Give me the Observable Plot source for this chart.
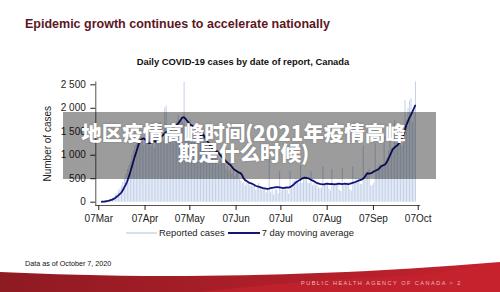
<!DOCTYPE html>
<html>
<head>
<meta charset="utf-8">
<script src="https://cdn.jsdelivr.net/npm/d3@7"></script>
<script src="https://cdn.jsdelivr.net/npm/@observablehq/plot@0.6"></script>
<style>
  html, body { margin: 0; padding: 0; background: #fff; }
  #root { position: relative; width: 500px; height: 292px; overflow: hidden; background: #fff; font-family: "Liberation Sans", Arial, sans-serif; }
  #chart { position: absolute; left: 0; top: 0; }
  .abs { position: absolute; white-space: nowrap; }
</style>
</head>
<body>
<div id="root">
  <div id="chart"></div>
  <div class="abs" id="title" style="left:25px; top:17px; font-size:12.5px; font-weight:bold; color:#5c1624;">Epidemic growth continues to accelerate nationally</div>
  <div class="abs" id="subtitle" style="left:0; width:486px; text-align:center; top:56px; font-size:9.4px; font-weight:bold; color:#111;">Daily COVID-19 cases by date of report, Canada</div>
  <div class="abs" id="legend" style="left:126px; top:227px; font-size:9.4px; color:#222; display:flex; align-items:center;">
    <svg width="31" height="6"><line x1="0" x2="31" y1="3" y2="3" stroke="#bccbe3" stroke-width="1.2"/></svg>
    <span style="margin:0 3px 0 2px;">Reported cases</span>
    <svg width="32" height="6"><line x1="0" x2="32" y1="3" y2="3" stroke="#14147a" stroke-width="2"/></svg>
    <span style="margin-left:2px;">7 day moving average</span>
  </div>
  <div class="abs" id="note" style="left:25px; top:259px; font-size:7.2px; color:#111;">Data as of October 7, 2020</div>
  <svg class="abs" style="left:0; top:255px;" width="500" height="37">
    <defs>
      <linearGradient id="rg" x1="0" x2="1" y1="0" y2="0">
        <stop offset="0" stop-color="#8e1a22"/>
        <stop offset="0.45" stop-color="#a81e28"/>
        <stop offset="1" stop-color="#c4222d"/>
      </linearGradient>
    </defs>
    <path d="M0,17 C120,23 300,24 500,7 L500,37 L0,37 Z" fill="url(#rg)"/>
    <path d="M200,37 C260,30 330,24 420,20 L500,8 L500,37 Z" fill="#c8232f" opacity="0.6"/>
    <text x="301" y="30" font-size="5.6" letter-spacing="1.45" fill="#e9b9bd" font-family="Liberation Sans, Arial">PUBLIC HEALTH AGENCY OF CANADA &gt; 2</text>
  </svg>
  <div class="abs" id="overlay" style="left:63px; top:112px; width:373px; height:67px; background:rgba(0,0,0,0.39); white-space:normal; text-align:center; color:#fff; font-family:'Noto Sans CJK SC','Noto Sans',sans-serif; font-weight:900; font-size:20.5px; line-height:20px; box-sizing:border-box; padding:10px 12px 0 0; text-shadow:0 0 2px rgba(0,0,0,0.25);">地区疫情高峰时间(2021年疫情高峰<br>期是什么时候)</div>
</div>
<script>
// ---- data ----
const startDate = "2020-03-09"; // first day shown (Monday)
const reportedCases = [
  10, 14, 20, 28, 45, 55, 70,
  80, 110, 150, 190, 240, 280, 340,
  420, 500, 600, 700, 780, 850, 1000,
  1100, 1200, 1250, 1350, 1550, 1450, 1300,
  1200, 1350, 1250, 1300, 1400, 1200, 1250,
  1150, 1350, 1550, 1450, 1700, 1500, 1300,
  2000, 2050, 1500, 1600, 1450, 1500, 1250,
  1550, 1700, 1850, 1650, 1800, 1700, 2560,
  1400, 1600, 1700, 1750, 1600, 1500, 1400,
  1200, 1300, 1450, 1400, 1500, 1450, 1350,
  1000, 1050, 1150, 1100, 1200, 1000, 1150,
  950, 800, 900, 850, 950, 800, 700,
  750, 650, 700, 600, 700, 550, 600,
  650, 500, 450, 400, 420, 350, 400,
  420, 350, 350, 330, 380, 250, 300,
  400, 300, 250, 300, 280, 200, 270,
  950, 200, 250, 150, 250, 280, 180,
  650, 250, 300, 250, 300, 250, 170,
  650, 350, 450, 450, 500, 420, 400,
  780, 400, 500, 500, 520, 400, 400,
  650, 350, 400, 350, 380, 300, 300,
  300, 750, 350, 380, 400, 280, 240,
  700, 350, 400, 380, 420, 250, 230,
  720, 350, 400, 400, 420, 270, 240,
  750, 400, 500, 450, 500, 380, 380,
  1200, 550, 600, 630, 700, 350, 350,
  400, 1250, 700, 750, 800, 750, 800,
  1400, 850, 950, 1100, 1300, 1150, 1150,
  1750, 1250, 1300, 1450, 1550, 1200, 1350,
  2170, 1750, 2000, 2150, 2200, 1700, 1950,
  2560
];
const movingAverage = [
  10, 12, 15, 20, 27, 35, 45,
  55, 70, 90, 115, 140, 170, 200,
  250, 310, 370, 440, 530, 630, 740,
  850, 960, 1060, 1160, 1260, 1320, 1350,
  1360, 1340, 1300, 1270, 1260, 1270, 1290,
  1300, 1290, 1310, 1340, 1370, 1400, 1430,
  1460, 1490, 1510, 1530, 1550, 1570, 1590,
  1610, 1640, 1670, 1710, 1760, 1800, 1810,
  1780, 1740, 1700, 1660, 1640, 1620, 1580,
  1540, 1500, 1460, 1420, 1430, 1440, 1390,
  1340, 1290, 1240, 1190, 1150, 1120, 1100,
  1090, 1060, 1020, 980, 950, 920, 880,
  850, 820, 800, 760, 720, 690, 670,
  650, 630, 620, 580, 510, 470, 450,
  430, 410, 400, 390, 370, 350, 340,
  330, 320, 310, 300, 295, 290, 285,
  290, 300, 305, 310, 315, 320, 320,
  315, 310, 305, 300, 310, 315, 310,
  320, 340, 360, 390, 420, 440, 460,
  480, 500, 515, 525, 520, 510, 500,
  480, 465, 450, 430, 410, 400, 390,
  385, 380, 380, 390, 395, 390, 385,
  390, 385, 380, 385, 390, 395, 390,
  385, 390, 395, 390, 385, 390, 400,
  410, 420, 430, 445, 460, 470, 480,
  500, 530, 580, 620, 610, 615, 625,
  650, 665, 680, 695, 720, 760, 780,
  790, 810, 860, 920, 990, 1060, 1130,
  1160, 1190, 1210, 1250, 1320, 1370, 1410,
  1520, 1640, 1710, 1790, 1850, 1920, 1990,
  2060
];
const xTickLabels = ["2020-03-07","2020-04-07","2020-05-07","2020-06-07","2020-07-07","2020-08-07","2020-09-07","2020-10-07"];
const yTicks = [0, 500, 1000, 1500, 2000, 2500];

// ---- build table ----
const t0 = new Date(startDate + "T00:00:00Z");
const rows = reportedCases.map((c, i) => ({
  date: d3.utcDay.offset(t0, i),
  cases: c,
  avg: movingAverage[i]
}));
const spaceFmt = d3.formatLocale({decimal: ".", thousands: " ", grouping: [3], currency: ["", ""]}).format(",");

const chart = Plot.plot({
  width: 500,
  height: 292,
  marginLeft: 95.3,
  marginRight: 80.8,
  marginTop: 81.5,
  marginBottom: 87,
  style: {background: "transparent", fontFamily: "Liberation Sans, Arial, sans-serif", fontSize: "10px", color: "#222"},
  x: {type: "utc", domain: [new Date("2020-03-05T00:00:00Z"), new Date("2020-10-08T00:00:00Z")]},
  y: {domain: [0, 2560], insetBottom: 3.3},
  marks: [
    Plot.rectY(rows, {x: "date", y: "cases", interval: "day", fill: "#c3d1e9", insetLeft: 0.25, insetRight: 0.25}),
    Plot.lineY(rows, {x: "date", y: "avg", stroke: "#14147a", strokeWidth: 1.8, curve: "linear"}),
    Plot.frame({anchor: "left", stroke: "#555"}),
    Plot.frame({anchor: "bottom", stroke: "#555"}),
    Plot.axisY({ticks: yTicks, tickFormat: spaceFmt, tickSize: 5, tickPadding: 5, label: "Number of cases", labelAnchor: "center", labelArrow: "none", labelOffset: 52}),
    Plot.axisX({ticks: xTickLabels.map(s => new Date(s + "T00:00:00Z")), tickFormat: d3.utcFormat("%d%b"), tickSize: 5, tickPadding: 4, label: null})
  ]
});
document.getElementById("chart").appendChild(chart);
</script>
</body>
</html>
